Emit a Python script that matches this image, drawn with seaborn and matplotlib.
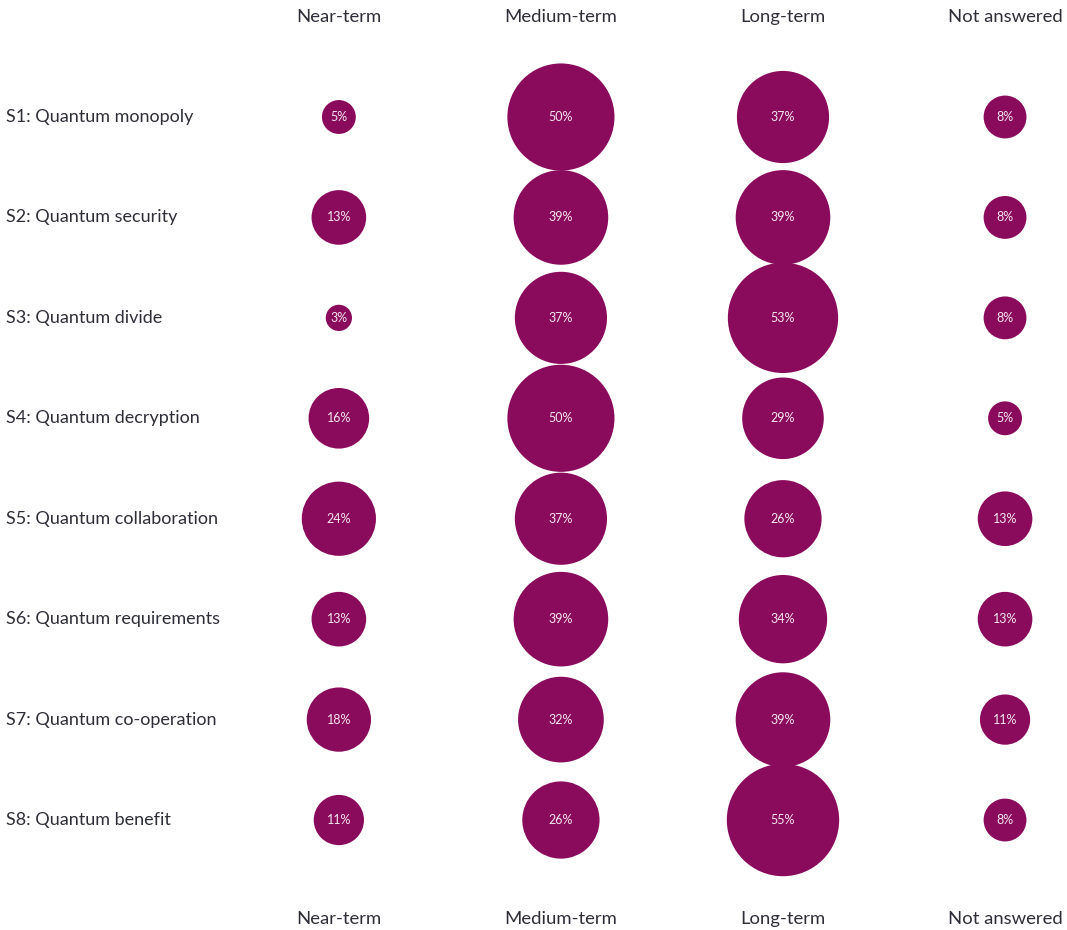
import pandas as pd
import matplotlib.pyplot as plt
import seaborn as sns

# data
scenarios = ['S1: Quantum monopoly', 'S2: Quantum security', 'S3: Quantum divide',
             'S4: Quantum decryption', 'S5: Quantum collaboration',
             'S6: Quantum requirements', 'S7: Quantum co-operation', 'S8: Quantum benefit']
horizons = ['Near-term', 'Medium-term', 'Long-term', 'Not answered']
near_term = [5, 13, 3, 16, 24, 13, 18, 11]
medium_term = [50, 39, 37, 50, 37, 39, 32, 26]
long_term = [37, 39, 53, 29, 26, 34, 39, 55]
not_answered = [8, 8, 8, 5, 13, 13, 11, 8]

rows = []
for col, vals in enumerate([near_term, medium_term, long_term, not_answered]):
    for row, v in enumerate(vals):
        rows.append({'x': col, 'y': row, 'pct': v, 'horizon': horizons[col],
                     'scenario': scenarios[row]})
df = pd.DataFrame(rows)

sns.set_style('white')
plt.rcParams['font.family'] = ['Lato', 'DejaVu Sans']

fig = plt.figure(figsize=(10.67, 9.3), dpi=100)
ax = fig.add_axes([0, 0, 1, 1])

purple = '#8a0a5c'
text_col = '#2e2e38'

# bubble area proportional to the percentage
sns.scatterplot(data=df, x='x', y='y', size='pct', sizes=(0, 11900), size_norm=(0, 100),
                color=purple, edgecolor='none', linewidth=0, legend=False, ax=ax)

for _, r in df.iterrows():
    ax.text(r['x'], r['y'], f"{r['pct']}%", ha='center', va='center',
            color='#f3e6ee', fontsize=9)

for i, s in enumerate(scenarios):
    ax.text(-1.499, i, s, ha='left', va='center', color=text_col, fontsize=13)

for j, h in enumerate(horizons):
    ax.text(j, -0.996, h, ha='center', va='center', color=text_col, fontsize=13.3)
    ax.text(j, 7.986, h, ha='center', va='center', color=text_col, fontsize=13.3)

ax.set_xlim(-1.526, 3.279)
ax.set_ylim(8.095, -1.165)
ax.axis('off')

fig.savefig('out.png', dpi=100)
